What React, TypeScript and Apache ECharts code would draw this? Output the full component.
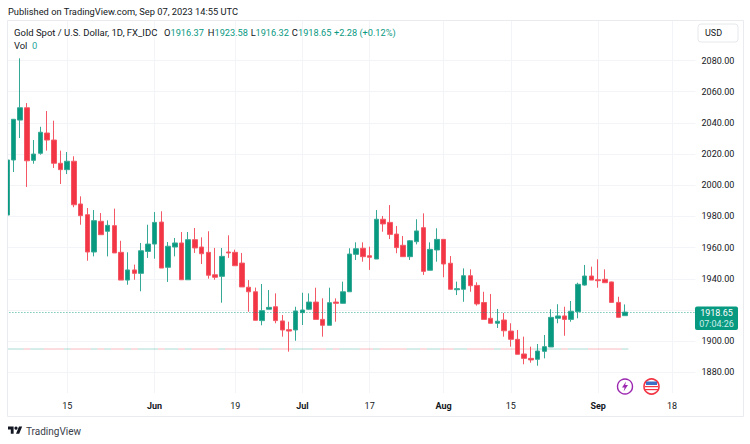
import React, { useEffect, useRef } from "react";
import * as echarts from "echarts";

const UP = "#089981";
const DOWN = "#f23645";
const UP_WICK = "#35a995";
const DOWN_WICK = "#f45865";
const FONT = "Roboto, 'Open Sans', sans-serif";

// Daily bars, May 2023 to Sep 07 2023
const opens = [1980.9,2016.2,2041.8,2049.7,2016,2020.5,2033.5,2029,2014.1,2010,2015.4,1988,1981.1,1957.2,1976.9,1970.5,1974.1,1957,1939.2,1945.7,1943.5,1957.6,1962.3,1976.4,1947.4,1960.4,1963,1939.4,1965.1,1960.4,1957,1942.6,1941.6,1957.2,1957,1950.1,1934.6,1931.7,1913.2,1920.5,1922.1,1913,1907.4,1907.2,1918.3,1920.5,1925.1,1914,1910.2,1925.1,1924.3,1931.7,1955.7,1959.6,1954.8,1952.7,1978.2,1976.2,1968.7,1961.5,1954.2,1963.8,1972.8,1945.5,1958.5,1965.3,1950,1933,1933.3,1942,1935.8,1924.8,1914.7,1911.5,1913.6,1906.5,1901.2,1891.8,1889,1888.4,1893.5,1896.3,1914.7,1916.2,1914,1918.9,1936,1941.8,1939.4,1939.7,1938,1924.9,1916.37];
const closes = [2016.2,2042.3,2049.7,2015.7,2020,2034,2029,2014.1,2010,2015.4,1987.5,1980.5,1957.2,1977.3,1968.3,1974.3,1956.6,1939.2,1945.7,1943.5,1958,1962.3,1976.2,1946.9,1960.9,1963,1939.4,1965.1,1959.8,1956.1,1942.3,1941,1954.4,1956.6,1948.4,1934.8,1931.7,1913.4,1919.6,1921.7,1913.2,1907.2,1906.5,1919.4,1920,1925.1,1914,1910.2,1924.7,1924.3,1931.7,1955.9,1959.3,1954.2,1953.8,1978.2,1975.2,1968.5,1960,1954.2,1964.4,1970.7,1944.8,1958.9,1965.3,1949.5,1933.3,1933.7,1942,1935.6,1923.9,1914,1911.5,1912.8,1906.7,1901.2,1891.6,1889,1888,1893.7,1896.5,1915.3,1916.2,1914,1919.2,1936.5,1941.8,1939.2,1938.8,1937.5,1924.9,1915.3,1918.65];
const lows = [1980.9,2008.5,2030.3,1998.9,2013.8,2019.6,2022.2,2011.1,2000.8,2007.2,1985.9,1974.7,1951.6,1954.4,1968.3,1954.4,1956.6,1939.2,1936.2,1939.4,1932,1953.4,1952.9,1946.9,1938,1954.4,1939.4,1939.4,1956.6,1949.5,1940.1,1939.4,1924.7,1953.4,1948.4,1934.8,1918.9,1913.4,1910.2,1920.5,1911.5,1902.9,1893.3,1900.3,1910.4,1920,1914,1902.9,1910.2,1912.5,1924.3,1931.7,1952.1,1951,1945.7,1952.7,1970.2,1965.5,1956.4,1954.2,1952.1,1962.1,1942.5,1945.5,1951,1941,1933.3,1929.6,1925.3,1931.7,1922.8,1914,1911.5,1908.5,1902.9,1896.5,1891.6,1885.2,1886.2,1884.3,1889,1896.3,1911.5,1903.5,1912.5,1914.7,1935.6,1939.2,1934.3,1937.5,1924.9,1915.3,1916.32];
const highs = [2016.2,2042.5,2081.4,2052.7,2029,2037.5,2047.6,2041.4,2022.2,2021.3,2018.6,1992.9,1985.4,1984.1,1982.2,1977.5,1985,1964.4,1957,1949.1,1963,1974.7,1982.8,1983.3,1963.6,1966.2,1970,1970,1972.6,1966.6,1970.5,1959.8,1959.8,1967.9,1958.7,1956.6,1939.2,1934.4,1936.7,1932.8,1930.7,1916.8,1912.5,1922.1,1931.1,1930.7,1934.3,1927.5,1934.3,1927.5,1938.2,1959.6,1963.4,1963.4,1960.6,1984.1,1980.3,1987.3,1973.9,1967.5,1964.9,1978.2,1982,1963.4,1972.4,1965.3,1954.6,1938.2,1946.7,1946.1,1937.8,1931.7,1930.3,1920.7,1918.1,1911.5,1907.2,1902.9,1896.5,1898.2,1904,1920.5,1923.7,1922.1,1925.8,1937.5,1948.9,1947.8,1952.5,1946.1,1938.2,1928.5,1923.58];
const FUTURE_BARS = 10;
const LAST_PRICE = 1918.65;
const VOLUME_LEVEL = 1895;

const dateLabels: Record<number, string> = {
  9: "15", 22: "Jun", 34: "19", 44: "Jul", 54: "17", 65: "Aug", 75: "15", 88: "Sep", 99: "18",
};
const monthLabels = ["Jun", "Jul", "Aug", "Sep"];
const priceTicks = [1880, 1900, 1920, 1940, 1960, 1980, 2000, 2020, 2040, 2060, 2080];
const axisPriceLabels = [1880, 1900, 1940, 1960, 1980, 2000, 2020, 2040, 2060, 2080];

const categories = Array.from({ length: opens.length + FUTURE_BARS }, (_, i) => dateLabels[i] ?? "");
const candleData = opens.map((o, i) => [o, closes[i], lows[i], highs[i]]);
const volumeData = opens.map((o, i) => ({
  value: [i, VOLUME_LEVEL],
  itemStyle: { color: closes[i] >= o ? UP : DOWN },
}));

const LOGO_D = "M14 22H7V11H0V4h14v18zM28 22h-8l7.5-18h8L28 22z";
const BOLT_D = "M4 0L0 6h2.6L1.6 10L6 3.6H3.2z";

export default function App() {
  const ref = useRef<HTMLDivElement>(null);
  useEffect(() => {
    document.body.style.margin = "0";
    document.body.style.background = "#fff";
    echarts.graphic.registerShape("tvlogo", echarts.graphic.extendPath(LOGO_D as any, {}) as any);
    echarts.graphic.registerShape("bolt", echarts.graphic.extendPath(BOLT_D as any, {}) as any);
    const chart = echarts.init(ref.current!, undefined, { renderer: "svg" });
    const txt = (x: number, y: number, text: string, fill: string, size = 9, weight: any = "normal", align = "left") => ({
      type: "text", x, y, z: 20,
      style: { text, fill, font: `${weight} ${size}px ${FONT}`, textAlign: align, textVerticalAlign: "middle" },
    });
    chart.setOption({
      animation: false,
      backgroundColor: "#ffffff",
      textStyle: { fontFamily: FONT },
      grid: { left: 3.4, top: 20, width: 692.16, height: 373, containLabel: false },
      xAxis: {
        type: "category",
        data: categories,
        boundaryGap: true,
        axisLine: { show: false },
        axisTick: { show: false, alignWithLabel: true },
        splitLine: {
          show: true,
          alignWithLabel: true,
          interval: (_: number, v: string) => v !== "",
          lineStyle: { color: "#f3f4f7", width: 1 },
        },
        axisLabel: {
          interval: (_: number, v: string) => v !== "",
          margin: 8,
          hideOverlap: false,
          color: "#131722",
          fontSize: 9,
          fontFamily: FONT,
          formatter: (v: string) => (monthLabels.includes(v) ? `{m|${v}}` : v),
          rich: { m: { fontWeight: "bold", fontSize: 9, color: "#131722", fontFamily: FONT } },
        },
      },
      yAxis: {
        type: "value",
        position: "right",
        min: 1866.79,
        max: 2105.97,
        scale: true,
        axisLine: { show: false },
        axisTick: { show: false, customValues: priceTicks },
        axisLabel: {
          customValues: axisPriceLabels,
          color: "#131722",
          fontSize: 9,
          margin: 6,
          fontFamily: FONT,
          formatter: (v: number) => v.toFixed(2),
        },
        splitLine: { show: true, lineStyle: { color: "#f3f4f7", width: 1 } },
      },
      series: [
        {
          type: "candlestick",
          name: "Gold",
          data: candleData,
          barWidth: 5,
          clip: true,
          itemStyle: { color: UP, color0: DOWN, borderColor: UP_WICK, borderColor0: DOWN_WICK, borderWidth: 1 },
          markLine: {
            silent: true,
            symbol: "none",
            label: { show: false },
            lineStyle: { color: UP, type: [1, 2], width: 1, opacity: 0.8 },
            data: [{ yAxis: LAST_PRICE }],
          },
        },
        {
          type: "scatter",
          name: "Vol",
          data: volumeData,
          symbol: "rect",
          symbolSize: [6.72, 1],
          itemStyle: { opacity: 0.35 },
          silent: true,
        },
      ],
      graphic: [
        { type: "rect", z: 15, shape: { x: 0, y: 0, width: 8, height: 444 }, style: { fill: "#fff" } },
        { type: "rect", z: 16, shape: { x: 7.5, y: 20.5, width: 736, height: 396 }, style: { fill: "none", stroke: "#e9ebef", lineWidth: 1 } },
        txt(8, 11, "Published on TradingView.com, Sep 07, 2023 14:55 UTC", "#131722", 9.3),
        txt(14, 32, "Gold Spot / U.S. Dollar, 1D, FX_IDC", "#131722", 9.5),
        txt(164, 32, "O", "#131722", 9.4), txt(170.5, 32, "1916.37", UP, 9.2),
        txt(207.7, 32, "H", "#131722", 9.4), txt(214.5, 32, "1923.58", UP, 9.2),
        txt(250.7, 32, "L", "#131722", 9.4), txt(255.5, 32, "1916.32", UP, 9.2),
        txt(291.7, 32, "C", "#131722", 9.4), txt(298, 32, "1918.65", UP, 9.2),
        txt(334, 32, "+2.28 (+0.12%)", UP, 9.2),
        txt(14, 45, "Vol", "#131722", 9.4), txt(32, 45, "0", "#26a69a", 9.4),
        { type: "rect", z: 18, shape: { x: 698, y: 24, width: 40, height: 18, r: 3 }, style: { fill: "#fff", stroke: "#e6e8ec", lineWidth: 1 } },
        txt(705, 33, "USD", "#131722", 9),
        { type: "rect", z: 18, shape: { x: 695, y: 306.5, width: 43, height: 23.5, r: 2 }, style: { fill: UP } },
        txt(716.5, 313, "1918.65", "#ffffff", 9, "normal", "center"),
        txt(716.5, 324, "07:04:26", "#cfeee8", 9, "normal", "center"),
        { type: "circle", z: 18, shape: { cx: 625, cy: 386.5, r: 7.5 }, style: { fill: "#fff", stroke: "#9c27b0", lineWidth: 1.4 } },
        { type: "bolt", z: 19, x: 622, y: 381.5, style: { fill: "#9c27b0" } },
        { type: "circle", z: 18, shape: { cx: 651.5, cy: 386.5, r: 7.5 }, style: { fill: "#fff", stroke: "#f23645", lineWidth: 1.6 } },
        { type: "rect", z: 19, shape: { x: 646, y: 381.5, width: 11, height: 3.5 }, style: { fill: "#3d6fc4" } },
        { type: "rect", z: 19, shape: { x: 645, y: 386, width: 13, height: 1.2 }, style: { fill: "#f23645" } },
        { type: "rect", z: 19, shape: { x: 645, y: 389, width: 13, height: 1.2 }, style: { fill: "#f23645" } },
        { type: "tvlogo", z: 20, x: 8, y: 425, scaleX: 0.4, scaleY: 0.4, style: { fill: "#131722" } },
        { type: "circle", z: 20, shape: { cx: 16, cy: 428.2, r: 1.6 }, style: { fill: "#131722" } },
        txt(26, 431, "TradingView", "#3a3e4a", 10),
      ],
    });
    return () => chart.dispose();
  }, []);
  return <div ref={ref} style={{ position: "absolute", left: 0, top: 0, width: 750, height: 444 }} />;
}
